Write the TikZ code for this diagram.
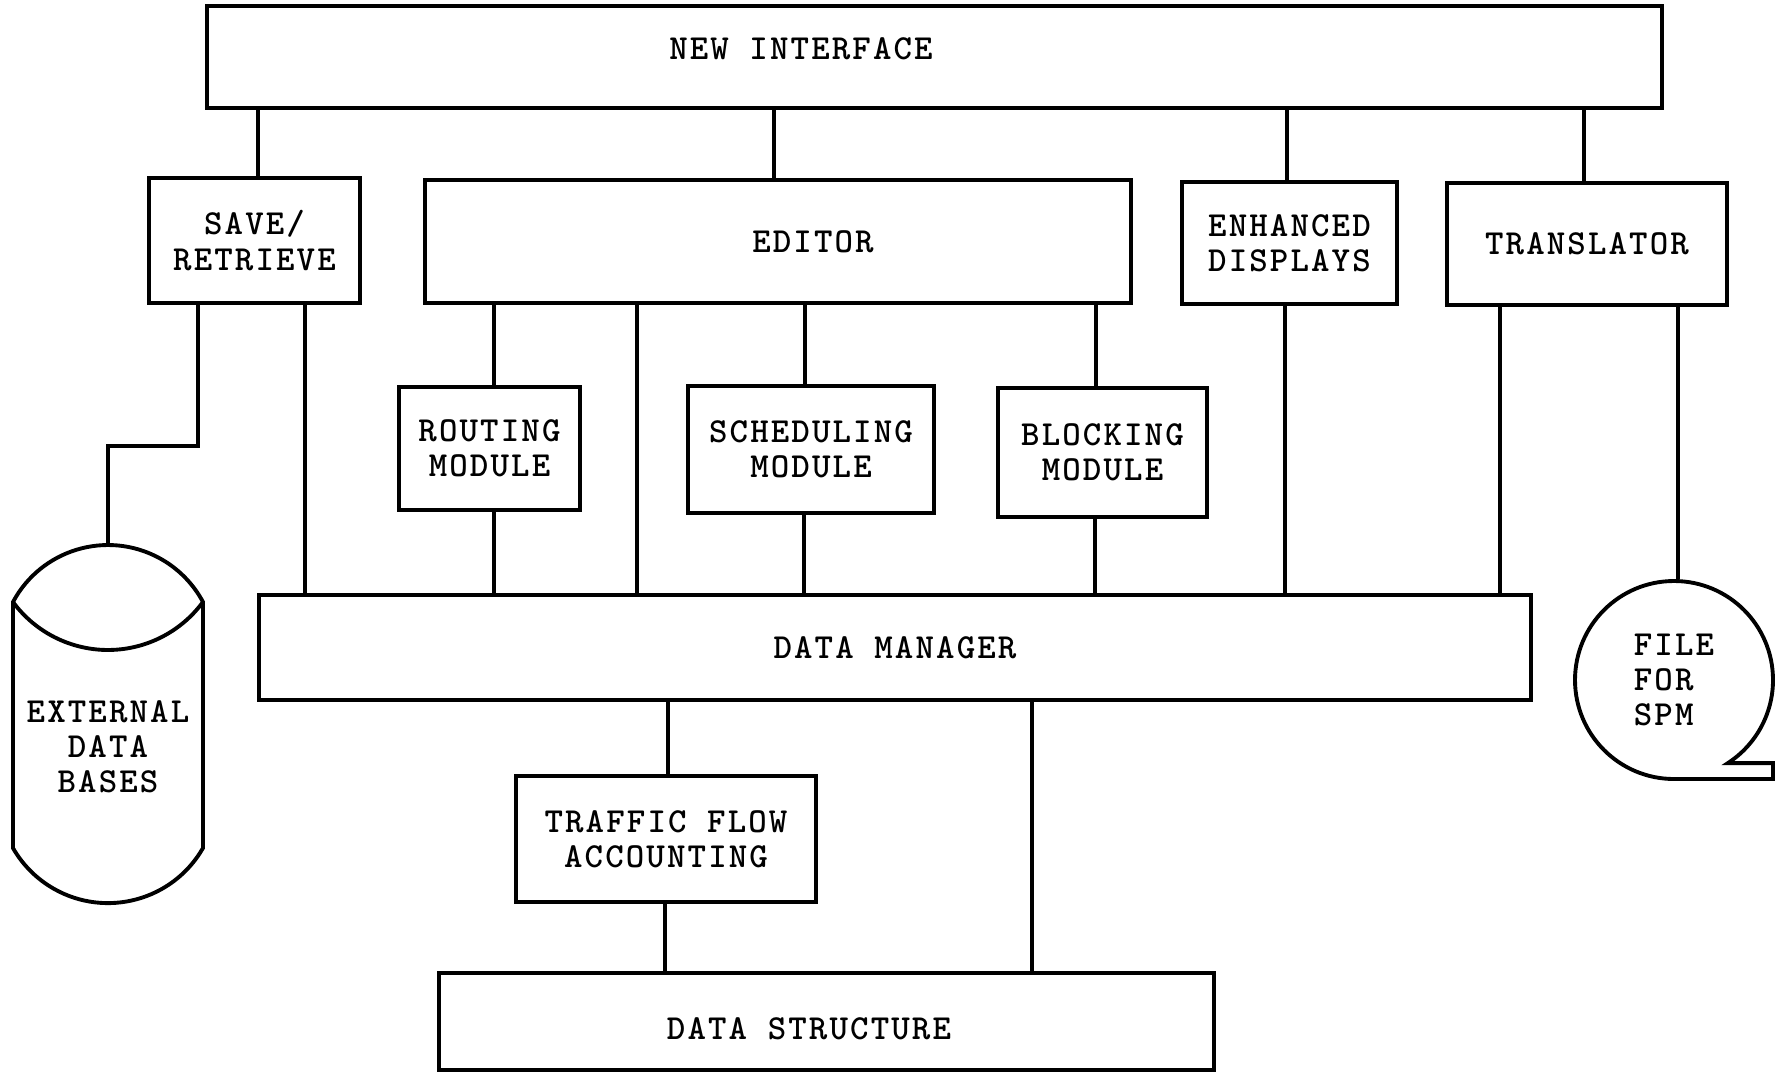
\documentclass[tikz,border=0pt]{standalone}
\usepackage{fontspec}
\newfontfamily\typefont{lmmonolt10-bold.otf}[LetterSpace=6.1]
\usetikzlibrary{shapes.symbols}

\begin{document}
\begin{tikzpicture}[
  every node/.style={font=\typefont\fontsize{10pt}{10pt}\selectfont},
  unit/.style={draw,line width=1.1pt,inner sep=0pt,align=center},
  link/.style={line width=1.1pt}
]
\useasboundingbox (0,0) rectangle (17.84,-10.76);

\node[unit,minimum width=14.55cm,minimum height=1.02cm,label={[xshift=-1.335cm,yshift=0.08cm]center:NEW INTERFACE}] (ni) at (9.345,-0.57) {};

\node[unit,minimum width=2.11cm,minimum height=1.25cm] (save) at (2.545,-2.405) {SAVE/\\RETRIEVE};
\node[unit,minimum width=7.06cm,minimum height=1.23cm,label={[xshift=0.35cm]center:EDITOR}] (editor) at (7.78,-2.415) {};
\node[unit,minimum width=2.15cm,minimum height=1.22cm] (enhanced) at (12.895,-2.43) {ENHANCED\\DISPLAYS};
\node[unit,minimum width=2.80cm,minimum height=1.22cm] (translator) at (15.87,-2.44) {TRANSLATOR};

\node[unit,minimum width=1.81cm,minimum height=1.23cm] (routing) at (4.895,-4.485) {ROUTING\\MODULE};
\node[unit,minimum width=2.46cm,minimum height=1.27cm] (scheduling) at (8.11,-4.495) {SCHEDULING\\MODULE};
\node[unit,minimum width=2.09cm,minimum height=1.29cm] (blocking) at (11.025,-4.525) {BLOCKING\\MODULE};

\node[unit,minimum width=12.72cm,minimum height=1.05cm] (dm) at (8.95,-6.475) {DATA MANAGER};
\node[unit,minimum width=3.00cm,minimum height=1.26cm] (traffic) at (6.66,-8.39) {TRAFFIC FLOW\\ACCOUNTING};
\node[unit,minimum width=7.75cm,minimum height=0.97cm,label={[xshift=-0.175cm,yshift=-0.075cm]center:DATA STRUCTURE}] (ds) at (8.265,-10.215) {};

% external data bases: cylinder
\node[align=center] (extdb) at (1.08,-7.47) {EXTERNAL\\DATA\\BASES};
\coordinate (dbtop) at (1.08,-5.45);
\draw[link] (0.13,-6.02) arc[start angle=151.9,end angle=28.1,radius=1.077] -- (2.03,-8.48)
  arc[start angle=-29.8,end angle=-150.2,radius=1.095] -- cycle;
\draw[link] (0.13,-6.02) arc[start angle=216.4,end angle=323.6,radius=1.18];

% file for spm: tape symbol
\node[unit,magnetic tape,minimum size=1.98cm,align=left,magnetic tape tail extend=0cm,magnetic tape tail=0.16] (file) at (16.74,-6.80) {FILE\\FOR\\SPM};

\foreach \x/\a/\b in {2.58/ni/save, 7.74/ni/editor, 12.87/ni/enhanced, 15.84/ni/translator,
    3.05/save/dm, 4.94/editor/routing, 6.37/editor/dm, 8.05/editor/scheduling, 10.96/editor/blocking,
    4.94/routing/dm, 8.04/scheduling/dm, 10.95/blocking/dm, 12.85/enhanced/dm, 15.00/translator/dm,
    16.78/translator/file, 6.68/dm/traffic, 10.32/dm/ds, 6.65/traffic/ds}
  \draw[link] (\x,0 |- \a.south) -- (\x,0 |- \b.north);

\draw[link] (1.98,0 |- save.south) |- (1.08,-4.46) -- (dbtop);
\end{tikzpicture}
\end{document}
